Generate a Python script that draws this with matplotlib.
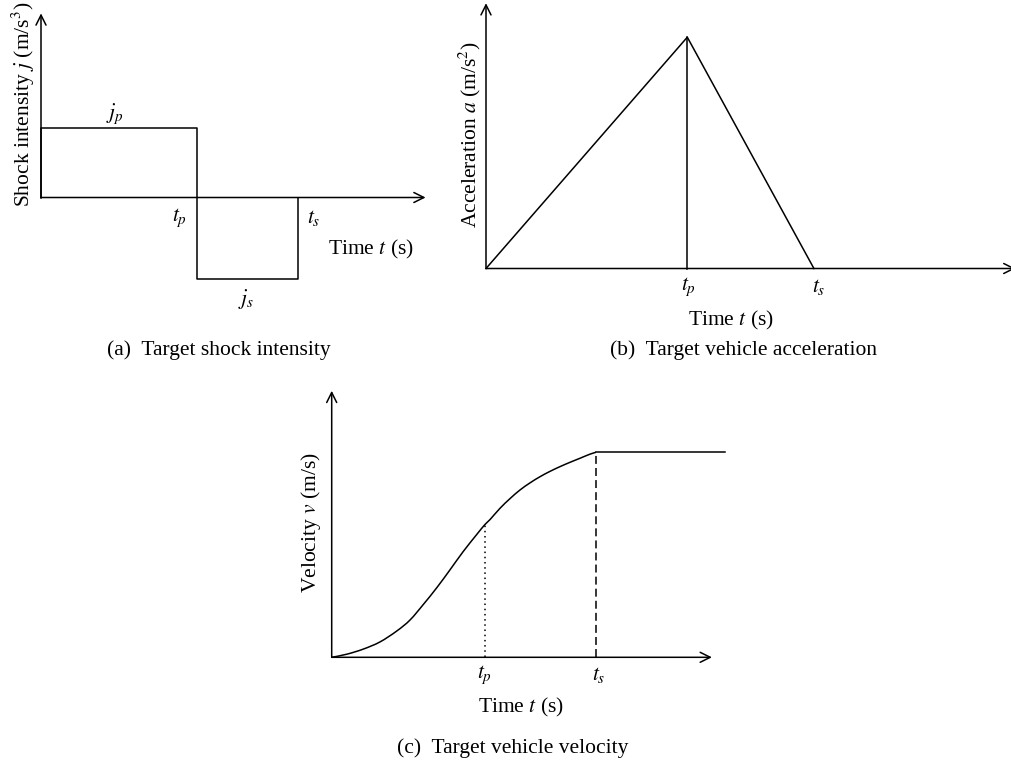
import matplotlib
matplotlib.use("Agg")
import matplotlib.pyplot as plt
from matplotlib.path import Path
from matplotlib.patches import PathPatch

plt.rcParams["font.family"] = ["Liberation Serif", "DejaVu Serif"]
plt.rcParams["mathtext.fontset"] = "stix"

# ---- data (arbitrary schematic units, t_p = 1) ----
# (a) shock intensity: step profile
jerk_t = [0.0, 0.0, 1.0, 1.0, 1.653, 1.653]
jerk_j = [0.0, 1.0, 1.0, -1.163, -1.163, 0.0]
jerk_tp, jerk_ts = 1.0, 1.653
jerk_jp, jerk_js = 1.0, -1.163

# (b) acceleration: triangular profile
acc_t = [0.0, 1.0, 1.629]
acc_a = [0.0, 1.0, 0.0]
acc_tp, acc_ts, acc_peak = 1.0, 1.629, 1.0

# (c) velocity: S-shaped rise up to t_s, then constant
vel_t = [0.0, 0.098, 0.206, 0.315, 0.424, 0.511, 0.598, 0.685, 0.772, 0.858,
         0.946, 1.0, 1.033, 1.098, 1.163, 1.228, 1.294, 1.359, 1.424, 1.489,
         1.554, 1.620, 1.685, 1.724]
vel_v = [0.0, 0.015, 0.040, 0.075, 0.128, 0.182, 0.258, 0.339, 0.427, 0.516,
         0.599, 0.648, 0.672, 0.727, 0.774, 0.816, 0.851, 0.881, 0.907, 0.930,
         0.951, 0.971, 0.991, 1.0]
vel_hold_t = [1.724, 2.566]
vel_hold_v = [1.0, 1.0]
vel_tp, vel_ts = 1.0, 1.724
vel_at_tp, vel_at_ts = 0.648, 1.0

W, H = 1012, 765
LW = 1.1
FS = 15.5
fig = plt.figure(figsize=(W / 100, H / 100), dpi=100)


def panel(ox, oy, ux, uy, xmax, ymin, ymax):
    """Axes whose data origin sits at pixel (ox, oy) with ux/uy pixels per unit."""
    left = ox / W
    bottom = (H - (oy - ymin * uy)) / H
    ax = fig.add_axes([left, bottom, xmax * ux / W, (ymax - ymin) * uy / H])
    ax.set_xlim(0, xmax)
    ax.set_ylim(ymin, ymax)
    ax.axis("off")
    return ax


def arrows(ax, xend, yend):
    kw = dict(arrowstyle="->", lw=LW, color="black", mutation_scale=18,
              shrinkA=0, shrinkB=0)
    ax.annotate("", xy=(xend, 0), xytext=(0, 0), arrowprops=kw,
                annotation_clip=False)
    ax.annotate("", xy=(0, yend), xytext=(0, 0), arrowprops=kw,
                annotation_clip=False)


def smooth_path(xs, ys):
    """Catmull-Rom style cubic Bezier path through the given points."""
    pts = list(zip(xs, ys))
    n = len(pts)
    verts = [pts[0]]
    codes = [Path.MOVETO]
    for i in range(n - 1):
        p0 = pts[max(i - 1, 0)]
        p1 = pts[i]
        p2 = pts[i + 1]
        p3 = pts[min(i + 2, n - 1)]
        c1 = (p1[0] + (p2[0] - p0[0]) / 6, p1[1] + (p2[1] - p0[1]) / 6)
        c2 = (p2[0] - (p3[0] - p1[0]) / 6, p2[1] - (p3[1] - p1[1]) / 6)
        verts += [c1, c2, p2]
        codes += [Path.CURVE4] * 3
    return Path(verts, codes)


# ---- (a) shock intensity ----
ax = panel(41, 197.5, 155.7, 70, 2.5, -1.6, 2.7)
arrows(ax, 2.47, 2.63)
ax.plot(jerk_t, jerk_j, color="black", lw=LW, clip_on=False)
ax.text(jerk_tp - 0.11, -0.29, r"$t_p$", fontsize=FS, ha="center", va="center")
ax.text(jerk_ts + 0.10, -0.29, r"$t_s$", fontsize=FS, ha="center", va="center")
ax.text(0.475, jerk_jp + 0.19, r"$j_p$", fontsize=FS, ha="center", va="center")
ax.text(1.32, jerk_js - 0.28, r"$j_s$", fontsize=FS, ha="center", va="center")
ax.text(2.12, -0.74, r"Time $t$ (s)", fontsize=FS, ha="center", va="center")
ax.text(-0.116, 1.33, r"Shock intensity $j$ (m/s$^3$)", fontsize=FS,
        rotation=90, ha="center", va="center")

# ---- (b) acceleration ----
ax = panel(486, 268.5, 201.3, 231.3, 2.63, -0.3, 1.16)
arrows(ax, 2.63, 1.147)
ax.plot(acc_t, acc_a, color="black", lw=LW, clip_on=False)
ax.plot([acc_tp, acc_tp], [0, acc_peak], color="black", lw=LW)
ax.text(acc_tp + 0.007, -0.08, r"$t_p$", fontsize=FS, ha="center", va="center")
ax.text(acc_ts + 0.025, -0.08, r"$t_s$", fontsize=FS, ha="center", va="center")
ax.text(1.217, -0.223, r"Time $t$ (s)", fontsize=FS, ha="center", va="center")
ax.text(-0.08, 0.577, r"Acceleration $a$ (m/s$^2$)", fontsize=FS,
        rotation=90, ha="center", va="center")

# ---- (c) velocity ----
ax = panel(331.7, 657.3, 153.3, 205, 2.6, -0.3, 1.32)
arrows(ax, 2.48, 1.30)
ax.add_patch(PathPatch(smooth_path(vel_t, vel_v), facecolor="none",
                       edgecolor="black", lw=LW, clip_on=False))
ax.plot(vel_hold_t, vel_hold_v, color="black", lw=LW, clip_on=False)
ax.plot([vel_tp, vel_tp], [0, vel_at_tp], color="black", lw=LW,
        linestyle=(0, (1.0, 2.4)))
ax.plot([vel_ts, vel_ts], [0, vel_at_ts], color="black", lw=LW,
        linestyle=(0, (5.2, 2.7)))
ax.text(vel_tp, -0.086, r"$t_p$", fontsize=FS, ha="center", va="center")
ax.text(vel_ts + 0.02, -0.086, r"$t_s$", fontsize=FS, ha="center", va="center")
ax.text(1.236, -0.247, r"Time $t$ (s)", fontsize=FS, ha="center", va="center")
ax.text(-0.135, 0.655, r"Velocity $v$ (m/s)", fontsize=FS,
        rotation=90, ha="center", va="center")

# ---- captions ----
fig.text(219 / W, 1 - 350 / H, "(a)  Target shock intensity", fontsize=FS,
         ha="center", va="center")
fig.text(743.5 / W, 1 - 350 / H, "(b)  Target vehicle acceleration",
         fontsize=FS, ha="center", va="center")
fig.text(512.5 / W, 1 - 748 / H, "(c)  Target vehicle velocity", fontsize=FS,
         ha="center", va="center")

fig.savefig("out.png", dpi=100)
